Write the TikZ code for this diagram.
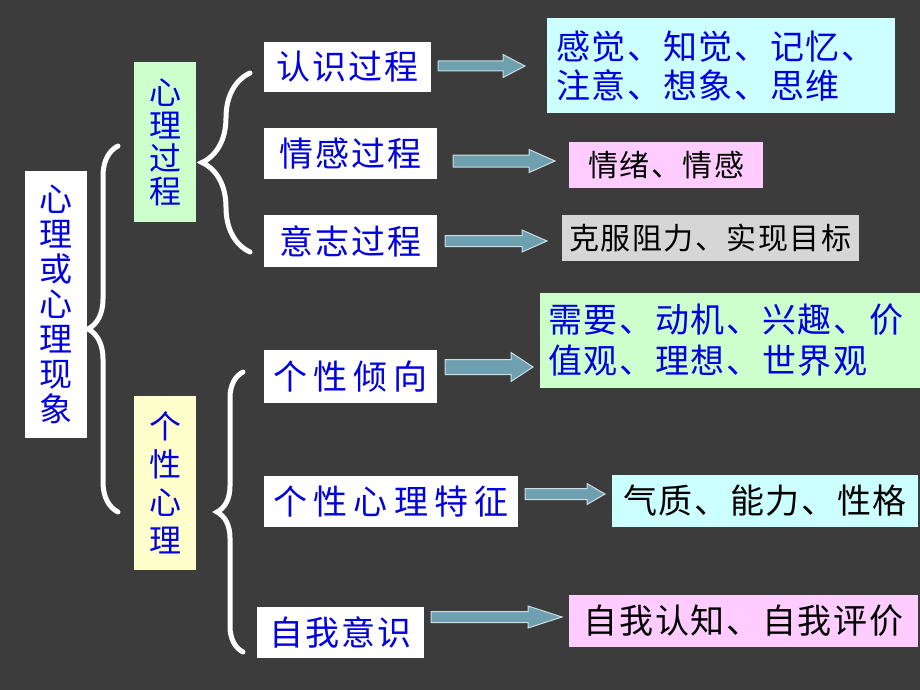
\documentclass[tikz,border=0pt]{standalone}
\usepackage{fontspec}
\usepackage{tikz}
\usetikzlibrary{calc,decorations.pathreplacing}
\newfontfamily\cjk[LetterSpace=5]{Noto Sans CJK SC}
\newfontfamily\cjkv{Noto Sans CJK SC}
\definecolor{bgc}{HTML}{3C3C3C}
\definecolor{txtblue}{HTML}{0000E0}
\definecolor{lgreen}{HTML}{CCFFCC}
\definecolor{lyellow}{HTML}{FFFFCC}
\definecolor{lcyan}{HTML}{CCFFFF}
\definecolor{lpink}{HTML}{FFCCFF}
\definecolor{lgray}{HTML}{D6D6D6}
\definecolor{arrfill}{HTML}{6EA0AF}
\definecolor{arredge}{HTML}{CCDDE3}
\newcommand\blockarrow[5]{%
  \draw[arrowbody] let \p1=(#1), \p2=(#2) in
    (\x1,\y1+#3) -- (\x2-#5,\y1+#3) -- (\x2-#5,\y1+#4) -- (\x2,\y1)
    -- (\x2-#5,\y1-#4) -- (\x2-#5,\y1-#3) -- (\x1,\y1-#3) -- cycle;}

\begin{document}
\begin{tikzpicture}[x=1pt,y=-1pt,inner sep=0pt]
  \tikzstyle{box}=[rectangle,text=txtblue,font=\cjk\fontsize{34}{40}\selectfont]
  \tikzstyle{small}=[font=\cjk\fontsize{30}{34}\selectfont,text=black]
  \tikzstyle{widetext}=[font=\cjk\fontsize{34}{40}\addfontfeatures{LetterSpace=18}\selectfont]
  \tikzstyle{arrowbody}=[fill=arrfill,draw=arredge,line width=1]
  \tikzset{curly/.style={white,line width=5,line cap=round,decorate,decoration={brace,amplitude=#1}}}

  \fill[bgc] (0,0) rectangle (920,690);

  \node[box,fill=white,minimum width=62,minimum height=267,align=center,font=\cjkv\fontsize{33}{35}\selectfont] (M) at (56,304.5) {心\\理\\或\\心\\理\\现\\象};
  \node[box,fill=lgreen,minimum width=62,minimum height=160,align=center,font=\cjkv\fontsize{32}{33}\selectfont]  (XL) at (165,142) {心\\理\\过\\程};
  \node[box,fill=lyellow,minimum width=62,minimum height=174,align=center,font=\cjkv\fontsize{32}{38}\selectfont] (GX) at (165,483) {个\\性\\心\\理};

  \node[box,fill=white,minimum width=167,minimum height=50] (R1) at (347.5,67)    {认识过程};
  \node[box,fill=white,minimum width=173,minimum height=51] (R2) at (350.5,153.5) {情感过程};
  \node[box,fill=white,minimum width=173,minimum height=52] (R3) at (350.5,241)   {意志过程};
  \node[box,widetext,fill=white,minimum width=173,minimum height=53] (P1) at (350.5,376.5) {个性倾向};
  \node[box,widetext,fill=white,minimum width=254,minimum height=51] (P2) at (391,501.5)   {个性心理特征};
  \node[box,fill=white,minimum width=167,minimum height=51] (P3) at (340.5,632.5) {自我意识};

  \node[box,fill=lcyan,minimum width=348,minimum height=95,text width=330,align=left,font=\cjk\fontsize{34}{39}\selectfont] (E1) at (721,66)
        {感觉、知觉、记忆、\\注意、想象、思维};
  \node[box,small,fill=lpink,minimum width=194,minimum height=46] (E2) at (666,165) {情绪、情感};
  \node[box,small,fill=lgray,minimum width=297,minimum height=46] (E3) at (710,238) {克服阻力、实现目标};
  \node[box,fill=lgreen,minimum width=380,minimum height=95,text width=364,align=left,font=\cjk\fontsize{34}{41}\selectfont] (E4) at (730,340.5)
        {需要、动机、兴趣、价\\值观、理想、世界观};
  \node[box,fill=lcyan,minimum width=306,minimum height=52,text=black] (E5) at (765,501)   {气质、能力、性格};
  \node[box,fill=lpink,minimum width=349,minimum height=52,text=black] (E6) at (743.5,621) {自我认知、自我评价};

  \coordinate (a1s) at (438,66);  \coordinate (a1e) at (525,66);
  \coordinate (a2s) at (453,161); \coordinate (a2e) at (555,161);
  \coordinate (a3s) at (445,241); \coordinate (a3e) at (547,241);
  \coordinate (a4s) at (445,367); \coordinate (a4e) at (533,367);
  \coordinate (a5s) at (525,494); \coordinate (a5e) at (605,494);
  \coordinate (a6s) at (431,617); \coordinate (a6e) at (562,617);

  \blockarrow{a1s}{a1e}{5}{11.5}{22}
  \blockarrow{a2s}{a2e}{6}{11.5}{26}
  \blockarrow{a3s}{a3e}{5.5}{11}{25}
  \blockarrow{a4s}{a4e}{7.5}{14.5}{22}
  \blockarrow{a5s}{a5e}{5.5}{10.5}{18}
  \blockarrow{a6s}{a6e}{5.5}{11}{34}

  \draw[curly=30] (118,512) -- (118,146);
  \draw[curly=48] (250,252) -- (250,73);
  \draw[curly=26] (243,652) -- (243,372);
\end{tikzpicture}
\end{document}
